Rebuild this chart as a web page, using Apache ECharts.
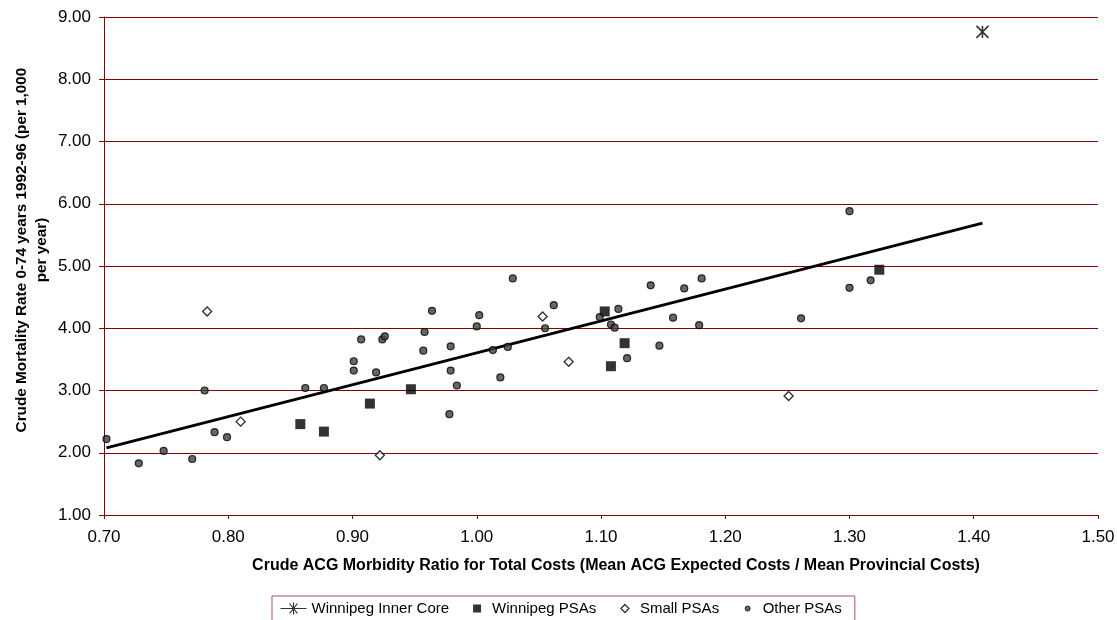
<!DOCTYPE html>
<html>
<head>
<meta charset="utf-8">
<script src="https://cdn.jsdelivr.net/npm/echarts@6/dist/echarts.min.js"></script>
<style>
  html, body { margin: 0; padding: 0; background: #fff; }
  #chart { width: 1117px; height: 620px; }
</style>
</head>
<body>
<div id="chart"></div>
<script>
// values: [morbidity ratio, mortality rate]
const innerCore = [[1.407, 8.76]]
const winnipegPSAs = [
  [0.858, 2.46], [0.877, 2.34], [0.914, 2.79], [0.947, 3.02],
  [1.103, 4.27], [1.119, 3.76], [1.108, 3.39], [1.324, 4.94]
]
const smallPSAs = [
  [0.783, 4.27], [0.810, 2.50], [0.922, 1.96],
  [1.053, 4.19], [1.074, 3.46], [1.251, 2.91]
]
const otherPSAs = [
  [0.702, 2.22], [0.728, 1.83], [0.748, 2.03], [0.771, 1.90], [0.781, 3.00],
  [0.789, 2.33], [0.799, 2.25], [0.862, 3.04], [0.877, 3.04], [0.907, 3.82],
  [0.901, 3.47], [0.901, 3.32], [0.919, 3.29], [0.924, 3.82], [0.926, 3.87],
  [0.964, 4.28], [0.958, 3.94], [0.957, 3.64], [0.979, 3.71], [0.979, 3.32],
  [0.984, 3.08], [0.978, 2.62], [1.002, 4.21], [1.000, 4.03], [1.013, 3.65],
  [1.025, 3.70], [1.019, 3.21], [1.029, 4.80], [1.055, 4.00], [1.062, 4.37],
  [1.099, 4.18], [1.114, 4.31], [1.108, 4.06], [1.111, 4.01], [1.121, 3.52],
  [1.140, 4.69], [1.147, 3.72], [1.158, 4.17], [1.167, 4.64], [1.181, 4.80],
  [1.179, 4.05], [1.261, 4.16], [1.300, 5.88], [1.317, 4.77], [1.300, 4.65]
]
// linear trend, drawn between the first and last x of the data
const trendLine = [[0.702, 2.08], [1.407, 5.69]]

const seriesNames = ['Winnipeg Inner Core', 'Winnipeg PSAs', 'Small PSAs', 'Other PSAs']
const xTitle = 'Crude ACG Morbidity Ratio for Total Costs (Mean ACG Expected Costs / Mean Provincial Costs)'
const yTitle = 'Crude Mortality Rate 0-74 years 1992-96 (per 1,000\nper year)'

const font = "'Liberation Sans', Arial, sans-serif"
const gridRed = '#8a0000'
const asterisk = 'path://M0,0L10,10M10,0L0,10M5,0L5,10'

const chart = echarts.init(document.getElementById('chart'), null, { renderer: 'canvas' })

chart.setOption({
  animation: false,
  backgroundColor: '#fff',
  textStyle: { fontFamily: font },
  grid: { left: 104, right: 19, top: 17, bottom: 105, outerBoundsMode: 'none' },
  legend: {
    left: 272,
    top: 596,
    orient: 'horizontal',
    itemWidth: 26,
    itemHeight: 12,
    itemGap: 12,
    padding: [4, 13, 8, 6],
    borderColor: '#b05050',
    borderWidth: 1,
    textStyle: { fontFamily: font, fontSize: 15, color: '#000' },
    data: [
      { name: seriesNames[0], icon: 'path://M0,6L26,6M9,1L17,11M17,1L9,11M13,0L13,12',
        itemStyle: { color: 'none', borderColor: '#000', borderWidth: 1.2 } },
      { name: seriesNames[1], icon: 'path://M0,0M26,12M12,2L20,2L20,10L12,10Z',
        itemStyle: { color: '#000', borderWidth: 0 } },
      { name: seriesNames[2], icon: 'path://M0,0M26,12M16,2L20,6L16,10L12,6Z',
        itemStyle: { color: '#fff', borderColor: '#000', borderWidth: 1.3 } },
      { name: seriesNames[3], icon: 'path://M0,0M26,12M13.5,6A2.5,2.5,0,1,1,18.5,6A2.5,2.5,0,1,1,13.5,6Z',
        itemStyle: { color: '#404040', borderColor: '#000', borderWidth: 1 } }
    ]
  },
  xAxis: {
    type: 'value',
    min: 0.7,
    max: 1.5,
    interval: 0.1,
    name: xTitle,
    nameLocation: 'middle',
    nameGap: 43,
    nameMoveOverlap: false,
    nameTextStyle: {
      fontFamily: font, fontSize: 16, fontWeight: 'bold', color: '#000',
      padding: [0, 0, 0, 30]
    },
    axisLine: { lineStyle: { color: gridRed, width: 1 } },
    axisTick: { show: true, inside: false, length: 4, lineStyle: { color: gridRed } },
    axisLabel: {
      margin: 14,
      fontSize: 17,
      color: '#000',
      formatter: v => v.toFixed(2)
    },
    splitLine: { show: false }
  },
  yAxis: {
    type: 'value',
    min: 1,
    max: 9,
    interval: 1,
    name: yTitle,
    nameLocation: 'middle',
    nameGap: 52,
    nameMoveOverlap: false,
    nameTextStyle: {
      fontFamily: font, fontSize: 15.3, fontWeight: 'bold', color: '#000',
      lineHeight: 20, align: 'center', padding: [0, 0, 0, 32]
    },
    axisLine: { show: true, lineStyle: { color: gridRed, width: 1 } },
    axisTick: { show: true, inside: false, length: 5, lineStyle: { color: gridRed } },
    axisLabel: {
      margin: 13,
      fontSize: 17,
      color: '#000',
      formatter: v => v.toFixed(2)
    },
    splitLine: { show: true, lineStyle: { color: gridRed, width: 1 } }
  },
  series: [
    {
      name: 'Linear trend',
      type: 'line',
      data: trendLine,
      symbol: 'none',
      z: 1,
      lineStyle: { color: '#000', width: 2.8 }
    },
    {
      name: seriesNames[0],
      type: 'scatter',
      data: innerCore,
      symbol: asterisk,
      symbolSize: 12,
      z: 3,
      itemStyle: { color: 'none', borderColor: '#000', borderWidth: 1.6 }
    },
    {
      name: seriesNames[1],
      type: 'scatter',
      data: winnipegPSAs,
      symbol: 'rect',
      symbolSize: 10,
      z: 3,
      itemStyle: { color: '#000', borderWidth: 0 }
    },
    {
      name: seriesNames[2],
      type: 'scatter',
      data: smallPSAs,
      symbol: 'diamond',
      symbolSize: 9,
      z: 3,
      itemStyle: { color: '#fff', borderColor: '#000', borderWidth: 1.4 }
    },
    {
      name: seriesNames[3],
      type: 'scatter',
      data: otherPSAs,
      symbol: 'circle',
      symbolSize: 7,
      z: 3,
      itemStyle: { color: '#404040', borderColor: '#000', borderWidth: 1.2 }
    }
  ]
})
</script>
</body>
</html>
